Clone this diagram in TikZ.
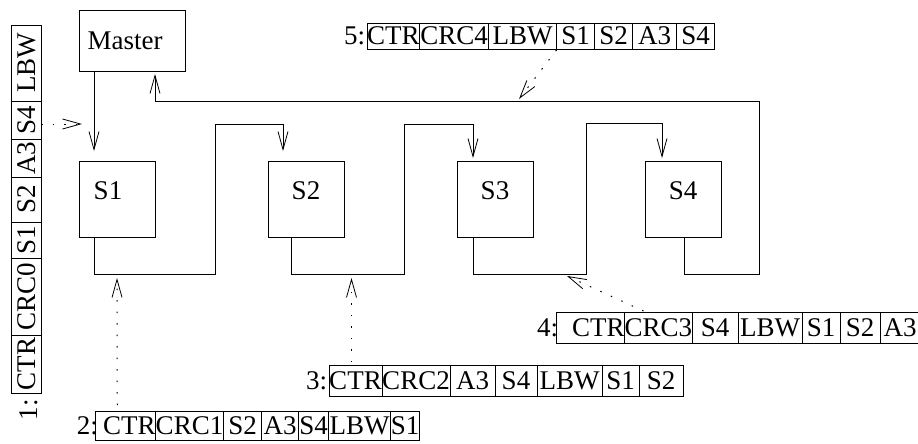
\documentclass[tikz,border=0pt]{standalone}
\usepackage{fontspec}
\setmainfont{Liberation Serif}
\usetikzlibrary{arrows.meta}
\tikzset{
  cell/.style={draw, line width=0.8pt, inner sep=0pt, outer sep=0pt,
    text height=18pt, text depth=0pt, font=\fontsize{27}{29}\selectfont},
  station/.style={draw, line width=0.8pt, inner sep=0pt, outer sep=0pt},
  lbl/.style={inner sep=0pt, outer sep=0pt, font=\fontsize{27}{29}\selectfont,
    text height=18pt, text depth=0pt},
  conn/.style={line width=0.8pt},
  tip/.style={-{Straight Barb[length=18pt,width=10pt]}},
  ptr/.style={line width=1pt, dash pattern=on 1.5pt off 10pt,
    -{Straight Barb[length=18pt,width=10pt,line width=0.8pt]}},
}
% #1 name, #2 left x, #3 top y, #4 height, #5 list width/text
\newcommand\hpkt[5]{%
  \foreach \cw/\ct [count=\i] in {#5}{%
    \ifnum\i=1
      \coordinate (tmp) at (#2, #3+#4/2);
    \else
      \pgfmathtruncatemacro\j{\i-1}
      \coordinate (tmp) at (#1-\j.east);
    \fi
    \node[cell, minimum width=\cw pt, minimum height=#4 pt, anchor=west] (#1-\i) at (tmp) {\ct};
  }%
}
\begin{document}
\begin{tikzpicture}[x=1pt,y=-1pt]
\useasboundingbox (0,0) rectangle (918,444);

% stations
\node[station, minimum width=106pt, minimum height=61pt] (master) at (132,40.5) {};
\node[lbl] (mastertxt) at (125,41) {Master};
\node[station, minimum width=76pt, minimum height=76pt] (s1) at (117,199) {};
\node[station, minimum width=76pt, minimum height=76pt] (s2) at (306,199) {};
\node[station, minimum width=76pt, minimum height=76pt] (s3) at (495,199) {};
\node[station, minimum width=76pt, minimum height=76pt] (s4) at (683.5,199) {};
\node[lbl] (s1txt) at (108,190) {S1};
\node[lbl] (s2txt) at (306,190) {S2};
\node[lbl] (s3txt) at (495,190) {S3};
\node[lbl] (s4txt) at (683,190) {S4};

% bend points
\coordinate (r1) at (215,274); \coordinate (u1) at (215,124);
\coordinate (r2) at (404,274); \coordinate (u2) at (404,124);
\coordinate (r3) at (586,274); \coordinate (u3) at (586,123);
\coordinate (r4) at (759,274); \coordinate (u4) at (759,101);

% ring connectors
\draw[conn,tip] ([xshift=15pt]master.south west) -- ([xshift=15pt,yshift=10pt]s1.north west);
\draw[conn,tip] ([xshift=15pt]s1.south west) |- (r1) -- (u1) -| ([xshift=15pt,yshift=10pt]s2.north west);
\draw[conn,tip] ([xshift=23pt]s2.south west) |- (r2) -- (u2) -| ([xshift=16pt,yshift=3pt]s3.north west);
\draw[conn,tip] ([xshift=16pt]s3.south west) |- (r3) -- (u3) -| ([xshift=16.5pt,yshift=3pt]s4.north west);
\draw[conn,tip] ([xshift=38.5pt]s4.south west) |- (r4) -- (u4) -| ([xshift=76pt,yshift=-3pt]master.south west);

% packet 1 (vertical)
\node[cell, rotate=90, minimum width=58pt, minimum height=30pt] (p1-1) at (26,364) {CTR};
\node[cell, rotate=90, minimum width=77pt, minimum height=30pt] (p1-2) at (26,296.5) {CRC0};
\node[cell, rotate=90, minimum width=36pt, minimum height=30pt] (p1-3) at (26,240) {S1};
\node[cell, rotate=90, minimum width=45pt, minimum height=30pt] (p1-4) at (26,199.5) {S2};
\node[cell, rotate=90, minimum width=38pt, minimum height=30pt] (p1-5) at (26,158) {A3};
\node[cell, rotate=90, minimum width=38pt, minimum height=30pt] (p1-6) at (26,120) {S4};
\node[cell, rotate=90, minimum width=76pt, minimum height=30pt] (p1-7) at (26,63) {LBW};
\node[lbl, rotate=90, anchor=east] (l1) at ([yshift=-6pt,xshift=2pt]p1-1.west) {1:};

% packets 2-5
\hpkt{p2}{95}{411}{29}{60/\hspace*{8pt}CTR,68/CRC1,38/S2,37/A3,30/S4,62/LBW,29/S1}
\hpkt{p3}{329}{365}{31}{53/CTR,68/CRC2,45/A3,42/S4,65/LBW,37/S1,44/S2}
\hpkt{p4}{556}{312}{31}{68/\hspace*{16pt}CTR,67/CRC3,46/S4,64/LBW,38/S1,40/S2,40/A3}
\hpkt{p5}{367}{23}{26}{52/CTR,69/CRC4,68/LBW,38/S1,38/S2,44/A3,38/S4}

\node[lbl, anchor=east] (l2) at ([xshift=3pt]p2-1.west) {2:};
\node[lbl, anchor=east] (l3) at ([xshift=-2pt]p3-1.west) {3:};
\node[lbl, anchor=east] (l4) at ([xshift=2pt]p4-1.west) {4:};
\node[lbl, anchor=east] (l5) at ([xshift=-2pt]p5-1.west) {5:};

% pointer arrows
\coordinate (t1) at (82,124);
\coordinate (t2) at (117,278);
\coordinate (t3) at (351.5,278);
\coordinate (t4) at (567,276);
\coordinate (t5) at (519,99);
\draw[ptr] ([yshift=-4pt]p1-6.south) -- (t1);
\draw[ptr] ([xshift=-8pt,yshift=6pt]p2-1.north) -- (t2);
\draw[ptr] ([xshift=-4pt,yshift=3pt]p3-1.north) -- (t3);
\draw[ptr] ([xshift=19pt,yshift=1pt]p4-2.north west) -- (t4);
\draw[ptr] ([yshift=-1pt]p5-3.south east) -- (t5);
\end{tikzpicture}
\end{document}
